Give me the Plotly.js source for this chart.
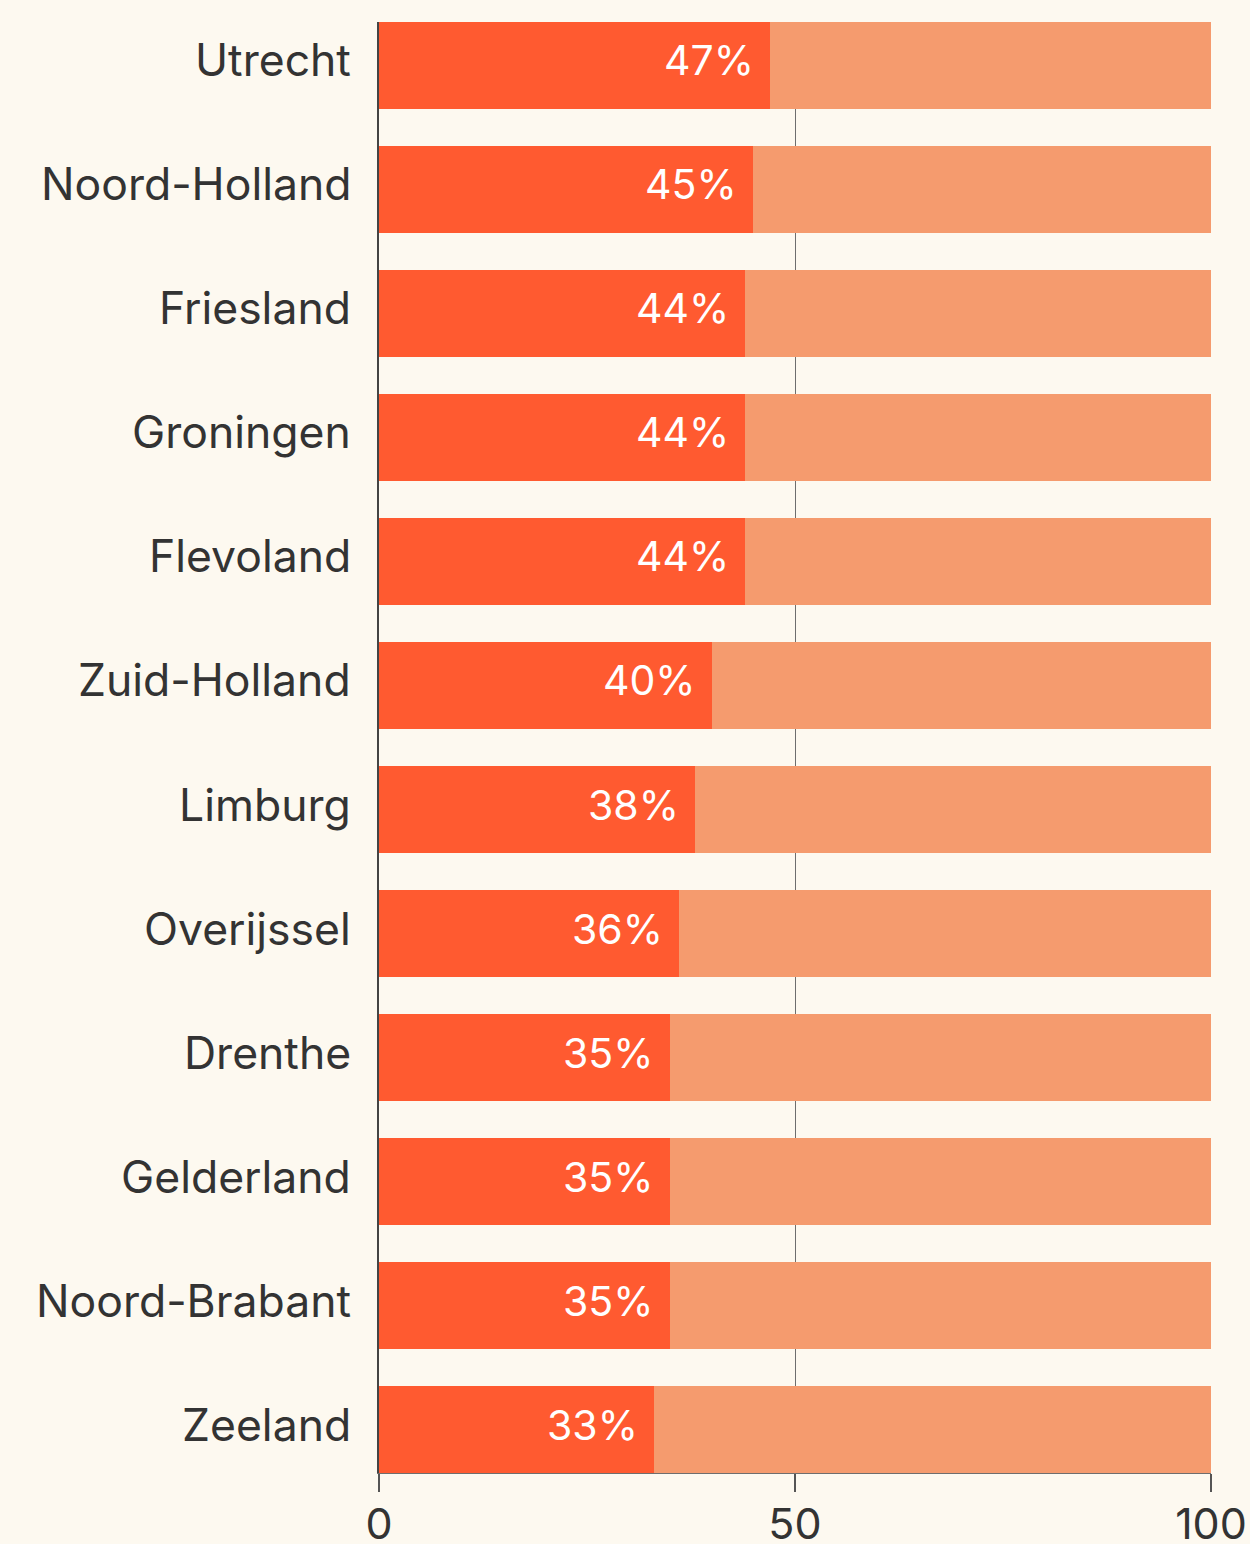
<!DOCTYPE html>
<html>
<head>
<meta charset="utf-8">
<script src="https://cdn.plot.ly/plotly-3.0.1.min.js"></script>
<style>
  html, body { margin: 0; padding: 0; background: #FDF9F0; }
  #chart { width: 1250px; height: 1544px; }
</style>
</head>
<body>
<div id="chart"></div>
<script>
// Categories listed top to bottom as in the picture
const provinces = ["Utrecht", "Noord-Holland", "Friesland", "Groningen", "Flevoland", "Zuid-Holland",
  "Limburg", "Overijssel", "Drenthe", "Gelderland", "Noord-Brabant", "Zeeland"];
const shareValues = [47, 45, 44, 44, 44, 40, 38, 36, 35, 35, 35, 33];
const totalValue = 100;
const xTicks = [0, 50, 100];

const restValues = shareValues.map(v => totalValue - v);
const labels = shareValues.map(v => v + "%");

const FONT = "Inter, 'Noto Sans', sans-serif";
const TEXT = "#333333";

const traces = [
  {
    type: "bar", orientation: "h",
    y: provinces, x: shareValues,
    marker: { color: "#FF5A30" },
    hoverinfo: "skip", showlegend: false
  },
  {
    type: "bar", orientation: "h",
    y: provinces, x: restValues,
    marker: { color: "#F59B6E" },
    hoverinfo: "skip", showlegend: false
  }
];

// value labels inside the bars
const valueAnnotations = provinces.map((p, i) => ({
  x: shareValues[i], y: p, xref: "x", yref: "y",
  text: labels[i], showarrow: false,
  xanchor: "right", yanchor: "middle", xshift: -14, yshift: 5,
  font: { family: FONT, size: 41, color: "#FFFFFF" }
}));

// category labels to the left of the axis
const categoryAnnotations = provinces.map(p => ({
  x: 0, y: p, xref: "paper", yref: "y",
  text: p, showarrow: false,
  xanchor: "right", yanchor: "middle", xshift: -26, yshift: 5,
  font: { family: FONT, size: 44.5, color: TEXT }
}));

const layout = {
  width: 1250, height: 1544,
  paper_bgcolor: "#FDF9F0", plot_bgcolor: "#FDF9F0",
  barmode: "stack", bargap: 0.3,
  margin: { l: 379, r: 39, t: 22, b: 71, pad: 0 },
  font: { family: FONT, color: TEXT },
  xaxis: {
    range: [0, 100], tickvals: xTicks, ticktext: xTicks.map(String),
    showgrid: true, gridcolor: "#6E6E6E", gridwidth: 1,
    zeroline: false,
    showline: true, linecolor: "#6E6E6E", linewidth: 1,
    ticks: "outside", ticklen: 18, tickcolor: "#555555", tickwidth: 1.5,
    ticklabelstandoff: -5,
    tickfont: { family: FONT, size: 43, color: TEXT },
    fixedrange: true
  },
  yaxis: {
    type: "category",
    categoryorder: "array", categoryarray: provinces.slice().reverse(),
    range: [-0.35, provinces.length - 0.65],
    showgrid: false, zeroline: false,
    showline: true, linecolor: "#444444", linewidth: 2,
    ticks: "", showticklabels: false,
    fixedrange: true
  },
  annotations: valueAnnotations.concat(categoryAnnotations)
};

Plotly.newPlot("chart", traces, layout, { staticPlot: true, displayModeBar: false });
</script>
</body>
</html>
